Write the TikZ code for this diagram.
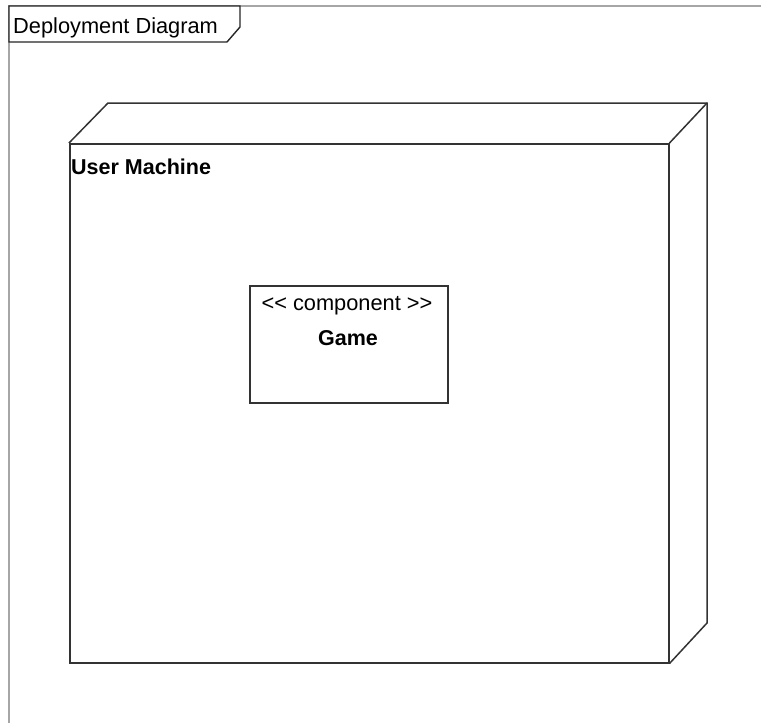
\documentclass[tikz,border=0pt]{standalone}
\usepackage{fontspec}
\setmainfont{Liberation Sans}
\begin{document}
\begin{tikzpicture}[x=1pt,y=-1pt,
  frameline/.style={draw=black!35, line width=1.4pt},
  tabline/.style={draw=black!85, line width=1.4pt},
  nodeline/.style={draw=black!80, line width=1.5pt},
  txt/.style={font=\fontsize{21.8}{25}\selectfont, inner sep=0pt},
  btxt/.style={font=\fontsize{21.5}{25}\selectfont\bfseries, inner sep=0pt}]
\useasboundingbox (0,0) rectangle (761,723);
% frame
\draw[frameline] (9,723) -- (9,6) -- (761,6);
\draw[tabline, fill=white] (9,6) -- (240,6) -- (240,27) -- (227,42) -- (9,42) -- cycle;
\node[txt, anchor=base west] (title) at (13,33) {Deployment Diagram};
% node
\node[nodeline, minimum width=599pt, minimum height=519pt, inner sep=0pt, anchor=north west] (um) at (69,143) {};
\coordinate (bnw) at (108,103);
\coordinate (bne) at (707,103);
\coordinate (bse) at (707,623);
\draw[nodeline] (um.north west) -- (bnw) -- (bne) -- (bse) -- (um.south east);
\draw[nodeline] (bne) -- (um.north east);
\node[btxt, anchor=base west] (umlabel) at (71,174) {User Machine};
% component
\node[nodeline, minimum width=198pt, minimum height=117pt, inner sep=0pt, anchor=north west] (comp) at (249,285) {};
\node[txt, anchor=base] (stereo) at (347,310) {<\kern0pt< component >\kern0pt>};
\node[btxt, anchor=base] (game) at (348,345) {Game};
\end{tikzpicture}
\end{document}
